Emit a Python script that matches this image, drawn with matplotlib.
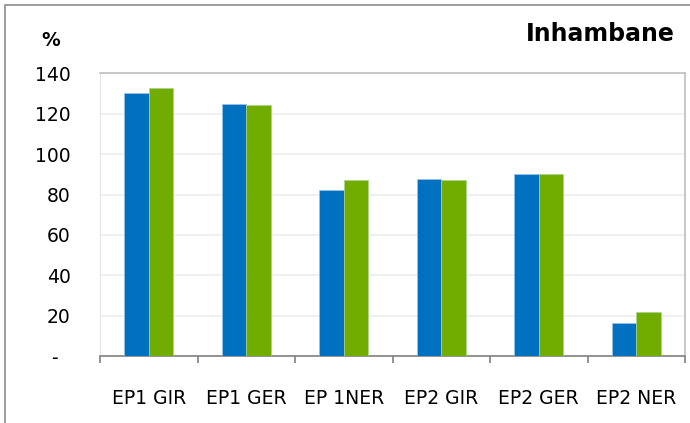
import numpy as np
import matplotlib.pyplot as plt
from matplotlib.patches import Rectangle

# dados
categorias = ["EP1 GIR", "EP1 GER", "EP 1NER", "EP2 GIR", "EP2 GER", "EP2 NER"]
serie_a = [130.3, 125.0, 82.3, 87.9, 90.3, 16.5]
serie_b = [133.0, 124.2, 87.2, 87.2, 90.0, 21.7]
y_ticks = [0, 20, 40, 60, 80, 100, 120, 140]
y_labels = ["-  ", "20", "40", "60", "80", "100", "120", "140"]

plt.rcParams['font.family'] = ['DejaVu Sans']

fig = plt.figure(figsize=(6.9, 4.23), dpi=100)
ax = fig.add_axes([100/690, 1 - 356/423, 585/690, 282.5/423])

x = np.arange(len(categorias))
w = 0.25
ax.bar(x - w/2, serie_a, w, color='#0070c0', edgecolor='#9dc3e6', linewidth=0.5, zorder=3)
ax.bar(x + w/2, serie_b, w, color='#70ad00', edgecolor='#a9d18e', linewidth=0.5, zorder=3)

ax.set_xlim(-0.5, len(categorias) - 0.5)
ax.set_ylim(0, 140)
ax.set_yticks(y_ticks)
ax.set_yticklabels(y_labels, fontsize=13.5)
ax.set_xticks(x)
ax.set_xticklabels(categorias, fontsize=13.5)
ax.tick_params(axis='y', length=0, pad=21)
ax.tick_params(axis='x', length=0, pad=24)
ax.set_xticks(np.arange(len(categorias) + 1) - 0.5, minor=True)
ax.tick_params(axis='x', which='minor', length=5, color='#808080', width=1.2, direction='out')
ax.grid(axis='y', color='#eeeeee', linewidth=1.2, zorder=0)

for s in ['top', 'right']:
    ax.spines[s].set_color('#bfbfbf')
    ax.spines[s].set_linewidth(1.2)
ax.spines['left'].set_color('#e6e6e6')
ax.spines['bottom'].set_color('#808080')
ax.spines['bottom'].set_linewidth(1.2)

fig.text(51/690, 1 - 40.5/423, "%", fontsize=13.5, fontweight='bold', ha='center', va='center')
fig.text(675/690, 1 - 33.5/423, "Inhambane", fontsize=17, fontweight='bold', ha='right', va='center')

fig.patches.append(Rectangle((5/690, -0.1), 1.1, 1 - 5/423 + 0.1, transform=fig.transFigure,
                             fill=False, edgecolor='#8c8c8c', linewidth=1.2))

fig.savefig("out.png", dpi=100)
